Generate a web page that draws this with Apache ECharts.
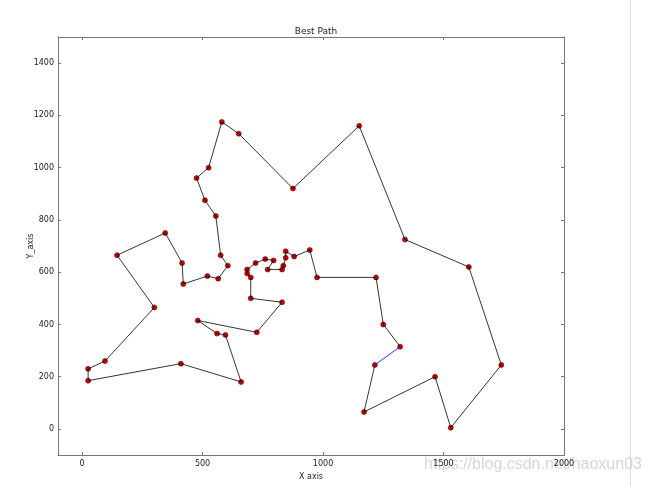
<!DOCTYPE html>
<html>
<head>
<meta charset="utf-8">
<script src="https://cdn.jsdelivr.net/npm/echarts@6/dist/echarts.min.js"></script>
<style>
  html, body { margin: 0; padding: 0; background: #fff; }
  #main { width: 649px; height: 486px; }
</style>
</head>
<body>
<div id="main"></div>
<script>
// city coordinates in visiting order (black path)
var pathX = [1320, 1250, 1220, 975, 945, 880, 845, 845, 835, 830, 770, 795, 760, 720, 685, 685, 700, 700, 830, 725,
  480, 560, 595, 660, 410, 25, 25, 95, 300, 145, 345, 415, 420, 520, 565, 605, 575, 555, 510, 475,
  525, 580, 650, 875, 1150, 1340, 1605, 1740, 1530, 1465, 1170, 1215];
var pathY = [315, 400, 580, 580, 685, 660, 680, 655, 625, 610, 610, 645, 650, 635, 610, 595, 580, 500, 485, 370,
  415, 365, 360, 180, 250, 185, 230, 260, 465, 665, 750, 635, 555, 585, 575, 625, 665, 815, 875, 960,
  1000, 1175, 1130, 920, 1160, 725, 620, 245, 5, 200, 65, 245];
// closing edge (blue)
var closeX = [1215, 1320];
var closeY = [245, 315];

var xTicks = [0, 500, 1000, 1500, 2000];
var yTicks = [0, 200, 400, 600, 800, 1000, 1200, 1400];

var pathData = pathX.map(function (x, i) { return [x, pathY[i]]; });
var closeData = closeX.map(function (x, i) { return [x, closeY[i]]; });

var chart = echarts.init(document.getElementById('main'), null, { renderer: 'canvas' });

var frame = { show: true, onZero: false, lineStyle: { color: '#777', width: 1 } };
var txt = { color: '#222', fontSize: 8, fontFamily: 'DejaVu Sans' };
var plain = function (v) { return String(v); };

var option = {
  animation: false,
  title: {
    text: 'Best Path',
    left: 311, top: 22, textAlign: 'center',
    textStyle: { fontSize: 9, fontWeight: 'normal', color: '#222', fontFamily: 'DejaVu Sans' }
  },
  grid: { left: 58, right: 85, top: 37, bottom: 26 },
  xAxis: [{
    type: 'value', min: -100, max: 2000,
    name: 'X axis', nameLocation: 'middle', nameGap: 14,
    nameTextStyle: txt,
    axisLine: frame,
    axisTick: { inside: true, length: 3, lineStyle: { color: '#777' }, customValues: xTicks },
    axisLabel: Object.assign({ margin: 5, customValues: xTicks, formatter: plain }, txt),
    splitLine: { show: false }
  }, {
    type: 'value', min: -100, max: 2000, position: 'top',
    axisLine: frame,
    axisTick: { inside: true, length: 3, lineStyle: { color: '#777' }, customValues: xTicks },
    axisLabel: { show: false },
    splitLine: { show: false }
  }],
  yAxis: [{
    type: 'value', min: -100, max: 1500,
    name: 'Y_axis', nameLocation: 'middle', nameGap: 23, nameRotate: 90, nameMoveOverlap: false,
    nameTextStyle: txt,
    axisLine: frame,
    axisTick: { inside: true, length: 3, lineStyle: { color: '#777' }, customValues: yTicks },
    axisLabel: Object.assign({ margin: 4, customValues: yTicks, formatter: plain }, txt),
    splitLine: { show: false }
  }, {
    type: 'value', min: -100, max: 1500, position: 'right',
    axisLine: frame,
    axisTick: { inside: true, length: 3, lineStyle: { color: '#777' }, customValues: yTicks },
    axisLabel: { show: false },
    splitLine: { show: false }
  }],
  series: [
    {
      type: 'line', data: pathData, symbol: 'none',
      lineStyle: { color: '#000', width: 0.8 }
    },
    {
      type: 'line', data: closeData, symbol: 'none',
      lineStyle: { color: '#0000ff', width: 0.8 }
    },
    {
      type: 'scatter', data: pathData, symbolSize: 5,
      itemStyle: { color: '#d00000', borderColor: '#600000', borderWidth: 0.6, opacity: 1 }
    }
  ],
  graphic: [
    {
      type: 'line', shape: { x1: 630.5, y1: 0, x2: 630.5, y2: 486 },
      style: { stroke: '#ddd', lineWidth: 1 }
    },
    {
      type: 'text', left: 424, top: 457,
      style: { text: 'https://blog.csdn.net/haoxun03', fill: 'rgba(200,200,200,0.75)', fontSize: 16, fontFamily: 'Liberation Sans' }
    }
  ]
};
chart.setOption(option);
</script>
</body>
</html>
